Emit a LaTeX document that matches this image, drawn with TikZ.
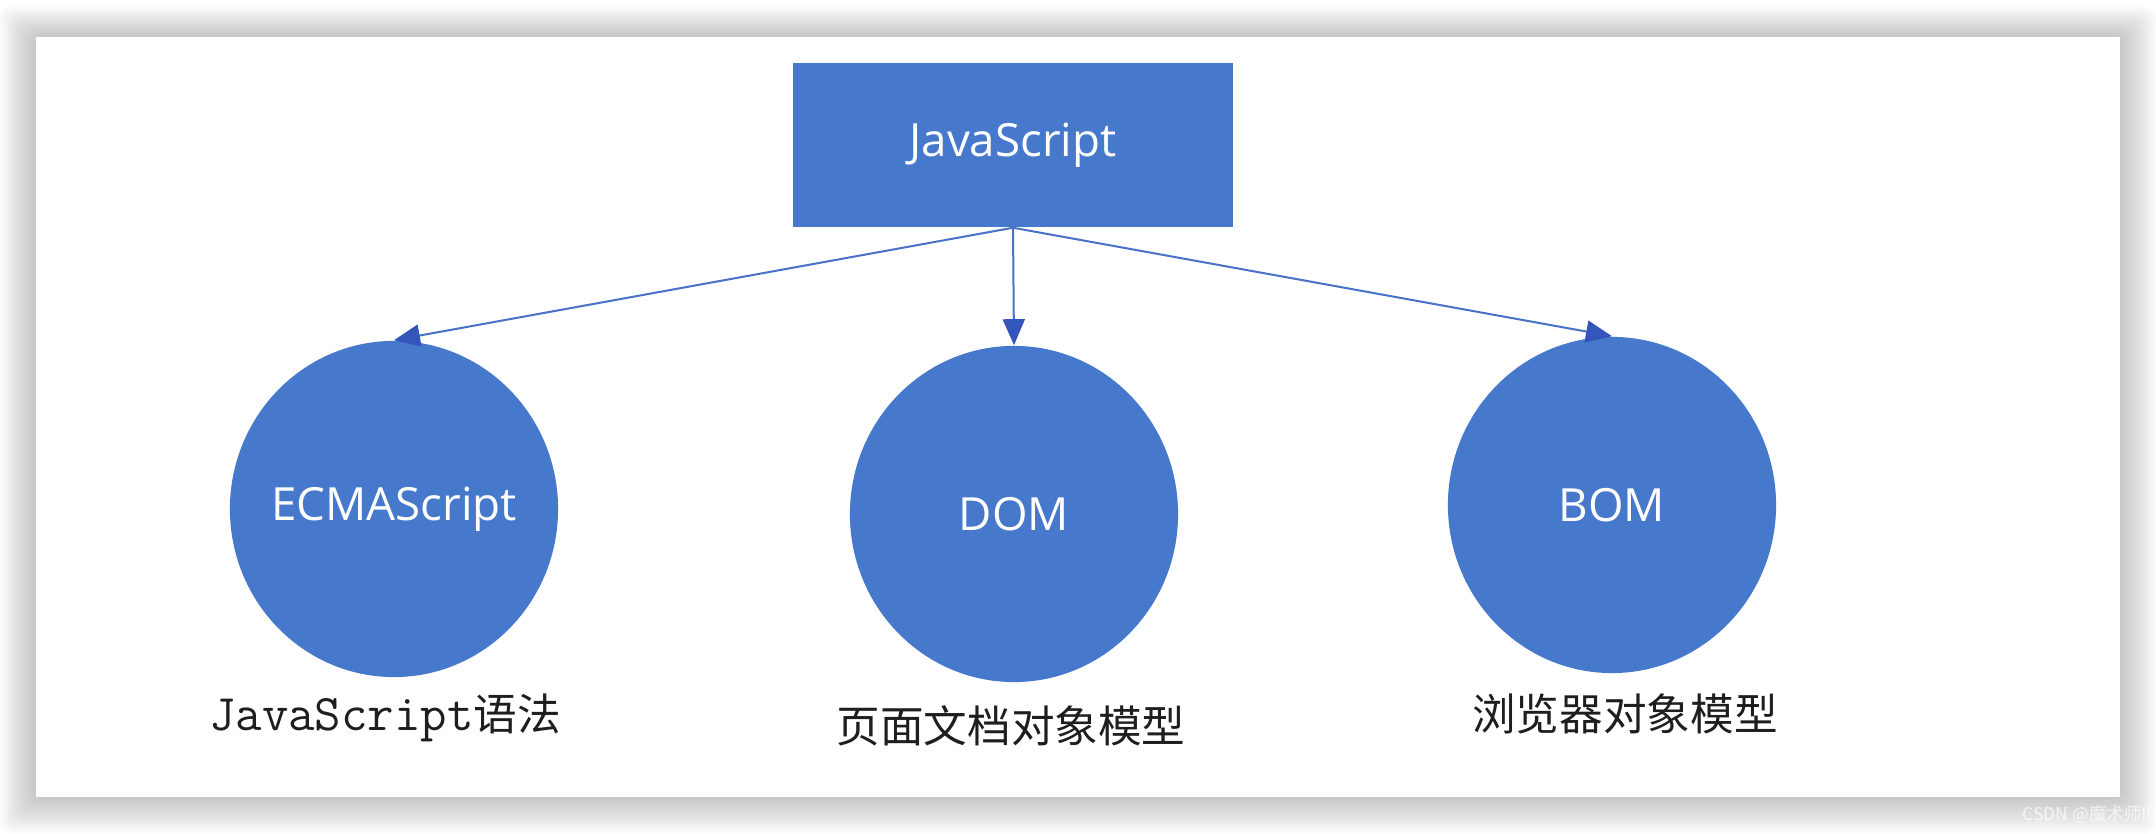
\documentclass[tikz,border=0pt]{standalone}
\usepackage{fontspec}
\setmainfont{Open Sans}
\newfontfamily\cjkfont{Noto Sans CJK SC}
\usetikzlibrary{arrows.meta, shapes.geometric}
\definecolor{partblue}{RGB}{70, 121, 203}
\definecolor{tipblue}{RGB}{52, 86, 186}
\definecolor{linkblue}{RGB}{72, 114, 200}
\definecolor{captiongray}{RGB}{30, 30, 30}

\begin{document}
\begin{tikzpicture}[x=0.01cm, y=-0.01cm,
    part/.style={ellipse, fill=partblue, minimum width=3.28cm, minimum height=3.36cm, inner sep=0pt, text=white, font=\fontsize{13}{15}\selectfont},
    caption/.style={text=captiongray, font=\cjkfont\fontsize{12.4}{15}\selectfont},
    link/.style={draw=linkblue, line width=0.02cm, -{Triangle[length=0.26cm, width=0.22cm, color=tipblue]}}]
    \useasboundingbox (0,0) rectangle (2156,834);
    % card with soft shadow
    \foreach \s in {1,...,12}
        \fill[black, opacity=0.018, rounded corners=0.1cm] (36-\s*3, 37-\s*2.5) rectangle (2120+\s*3, 797+\s*3);
    \fill[white] (36,37) rectangle (2120,797);

    \node[rectangle, fill=partblue, minimum width=4.4cm, minimum height=1.64cm, text=white, font=\fontsize{13}{15}\selectfont] (js) at (1013,145) {JavaScript};
    \node[part] (ecma) at (394,509) {\makebox[0pt]{ECMAScript}};
    \node[part] (dom) at (1014,514) {DOM};
    \node[part] (bom) at (1612,505) {BOM};

    \draw[link] (js.south) -- (ecma.north);
    \draw[link] (js.south) -- (dom.north);
    \draw[link] (js.south) -- (bom.north);

    \node[caption] (ecmanote) at (385,718) {{\ttfamily\fontsize{14.6}{15}\selectfont JavaScript}语法};
    \node[caption] (domnote) at (1011,726) {页面文档对象模型};
    \node[caption] (bomnote) at (1625,714) {浏览器对象模型};

    \node[anchor=west, text=white, opacity=0.7, font=\cjkfont\fontsize{5}{6}\selectfont] (mark) at (2010,815) {CSDN @魔术师ID};
\end{tikzpicture}
\end{document}
